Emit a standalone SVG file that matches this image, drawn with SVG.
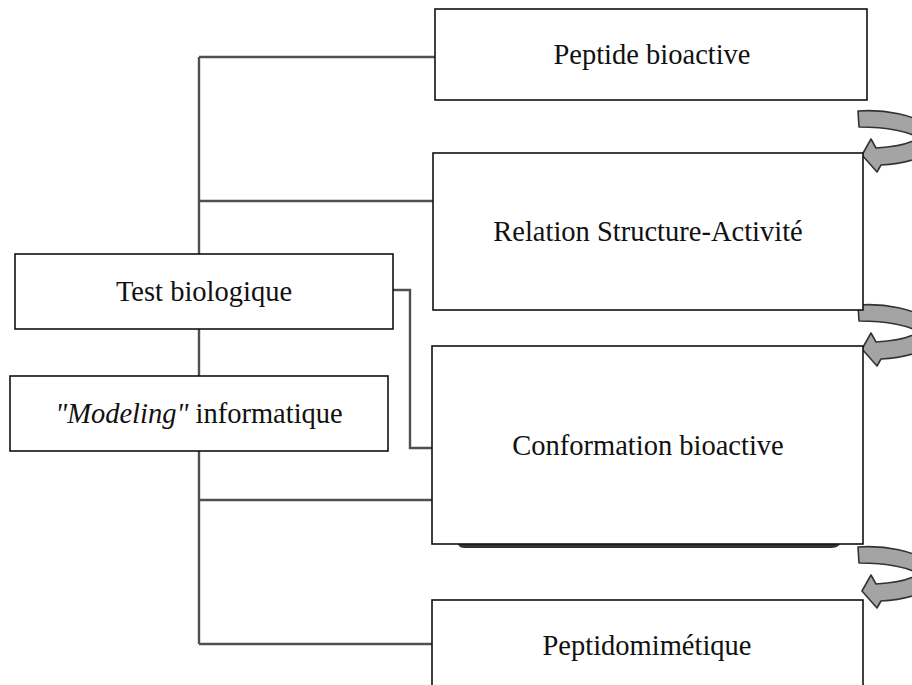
<svg xmlns="http://www.w3.org/2000/svg" width="912" height="685" viewBox="0 0 912 685">
<style>
.box{fill:#fff;stroke:#111;stroke-width:1.6}
.lbl{font-family:"Liberation Serif","Times New Roman",serif;font-size:28.5px;fill:#111;text-anchor:middle}
.conn{fill:none;stroke:#505050;stroke-width:2.4}
.carrow{fill:#a4a4a4;stroke:#333;stroke-width:1.6;stroke-linejoin:round}
</style>
<defs>
<path id="curl" class="carrow" d="M858,111 C885,109 915,115 930,127 L930,153 C915,161 897,164 881,165 L877,172 L862,155 L871,139 L876,148 C893,147 910,144 918,138 C910,132 888,127 859,127 Z"/>
</defs>
<rect width="912" height="685" fill="#fff"/>
<g id="connectors">
<path class="conn" d="M199,57 V644"/>
<path class="conn" d="M199,57 H435"/>
<path class="conn" d="M199,201 H433"/>
<path class="conn" d="M199,500 H432"/>
<path class="conn" d="M199,644 H432"/>
<path class="conn" d="M393,290 H410 V448 H432"/>
</g>
<g id="curl-arrows">
<use href="#curl"/>
<use href="#curl" transform="translate(0,194)"/>
<use href="#curl" transform="translate(0,436)"/>
</g>
<g id="peptide-bioactive">
<rect class="box" x="435" y="9" width="432" height="91"/>
<text class="lbl" x="652" y="64">Peptide bioactive</text>
</g>
<g id="relation-structure-activite">
<rect class="box" x="433" y="153" width="430" height="157"/>
<text class="lbl" x="648" y="241">Relation Structure-Activité</text>
</g>
<g id="test-biologique">
<rect class="box" x="15" y="254" width="378" height="75"/>
<text class="lbl" x="204" y="301">Test biologique</text>
</g>
<g id="modeling-informatique">
<rect class="box" x="10" y="376" width="378" height="75"/>
<text class="lbl" x="199" y="423"><tspan font-style="italic">"Modeling"</tspan> informatique</text>
</g>
<g id="conformation-bioactive">
<path d="M458,544 H840 C838,547 835,548 830,548 H466 C461,548 459,547 458,544 Z" fill="#333"/>
<rect class="box" x="432" y="346" width="431" height="198"/>
<text class="lbl" x="648" y="455">Conformation bioactive</text>
</g>
<g id="peptidomimetique">
<rect class="box" x="432" y="600" width="431" height="92"/>
<text class="lbl" x="647" y="655">Peptidomimétique</text>
</g>
</svg>
